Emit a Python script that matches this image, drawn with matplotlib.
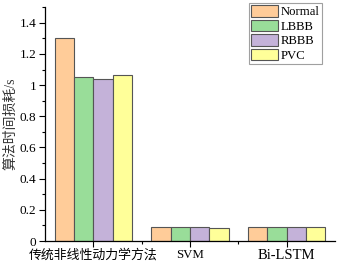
import numpy as np
import matplotlib.pyplot as plt
from matplotlib.ticker import MultipleLocator, FixedLocator

groups = ["传统非线性动力学方法", "SVM", "Bi-LSTM"]
series = ["Normal", "LBBB", "RBBB", "PVC"]
normal = [1.30, 0.092, 0.092]
lbbb = [1.055, 0.092, 0.088]
rbbb = [1.04, 0.088, 0.092]
pvc = [1.065, 0.083, 0.09]
colors = ["#FFCC99", "#99DD99", "#C4B2D9", "#FFFF99"]

fonts = ["Liberation Serif", "Noto Sans CJK SC"]
plt.rcParams["font.family"] = fonts

fig = plt.figure(figsize=(3.4, 2.64), dpi=100)
ax = fig.add_axes([0.132, 0.087, 0.853, 0.886])

x = np.arange(len(groups))
w = 0.2
for i, (vals, name) in enumerate(zip([normal, lbbb, rbbb, pvc], series)):
    ax.bar(x + (i - 1.5) * w, vals, w, color=colors[i], edgecolor="#555555",
           linewidth=0.8, label=name)

ax.set_xlim(-0.5, 2.5)
ax.set_ylim(0, 1.5)
ax.set_xticks(x)
ax.set_xticklabels(groups, fontsize=9.3)
ax.get_xticklabels()[2].set_fontsize(10.5)
ax.xaxis.set_minor_locator(FixedLocator([0.5, 1.5]))
ax.yaxis.set_minor_locator(MultipleLocator(0.1))
ax.set_yticks(np.arange(0, 1.41, 0.2))
ax.set_yticklabels(["0", "0.2", "0.4", "0.6", "0.8", "1", "1.2", "1.4"], fontsize=9.5)
ax.tick_params(axis="both", which="major", length=4, width=0.8, direction="out", pad=2)
ax.tick_params(axis="both", which="minor", length=2, width=0.8, direction="out")
# y label placed by hand so it sits where the reference has it
fig.text(11 / 340, 0.53, "算法时间损耗/s", rotation=90, ha="center", va="center",
         fontsize=10, color="#333333")

for s in ["top", "right"]:
    ax.spines[s].set_visible(False)
for s in ["left", "bottom"]:
    ax.spines[s].set_linewidth(0.9)

leg = ax.legend(loc="upper right", bbox_to_anchor=(0.955, 1.017), fontsize=9.2,
                frameon=True, fancybox=False, edgecolor="#888888",
                handlelength=2.1, handleheight=1.0, handletextpad=0.25,
                labelspacing=0.12, borderpad=0.15, borderaxespad=0.0)
leg.get_frame().set_linewidth(0.8)

fig.savefig("out.png", dpi=100)
